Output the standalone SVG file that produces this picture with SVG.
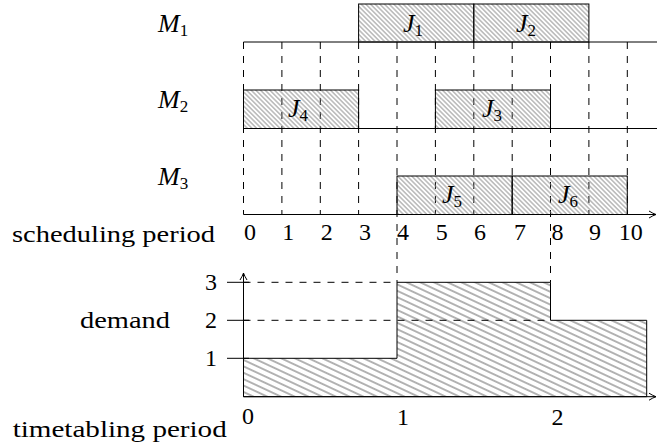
<svg xmlns="http://www.w3.org/2000/svg" width="657" height="447" viewBox="0 0 657 447">
<defs>
<style>
.t{font-family:"Liberation Serif","Times New Roman",serif;font-size:24px;fill:#000}
.i{font-style:italic;font-size:26px}
.s{font-size:17px}
.ax{stroke:#000;stroke-width:1;fill:none}
.dash{stroke:#000;stroke-width:1;stroke-dasharray:7 7;fill:none}
.box{fill:url(#hatchA);stroke:#000;stroke-width:1}
</style>
<pattern id="hatchA" patternUnits="userSpaceOnUse" width="10" height="3.3" patternTransform="rotate(45)">
<line x1="0" y1="1.65" x2="10" y2="1.65" stroke="#888" stroke-width="0.9"/>
</pattern>
<pattern id="hatchB" patternUnits="userSpaceOnUse" width="10" height="5.8" patternTransform="rotate(25)">
<line x1="0" y1="2.9" x2="10" y2="2.9" stroke="#555" stroke-width="0.9"/>
</pattern>
<marker id="arr" markerWidth="10" markerHeight="10" refX="8" refY="5" orient="auto" markerUnits="userSpaceOnUse">
<path d="M1,1.5 Q5,4 8,5 Q5,6 1,8.5" fill="none" stroke="#000" stroke-width="1"/>
</marker>
</defs>

<g id="connectors">
<line class="ax" x1="243.5" y1="42" x2="657" y2="42"/>
<line class="ax" x1="243.5" y1="128.5" x2="657" y2="128.5"/>
<line class="ax" x1="243.5" y1="214.5" x2="656" y2="214.5" marker-end="url(#arr)"/>
<g class="dash">
<line x1="243.5" y1="42" x2="243.5" y2="214.5"/>
<line x1="281.9" y1="42" x2="281.9" y2="214.5"/>
<line x1="320.3" y1="42" x2="320.3" y2="214.5"/>
<line x1="358.6" y1="42" x2="358.6" y2="214.5"/>
<line x1="397" y1="42" x2="397" y2="282.5"/>
<line x1="435.4" y1="42" x2="435.4" y2="214.5"/>
<line x1="473.8" y1="42" x2="473.8" y2="214.5"/>
<line x1="512.2" y1="42" x2="512.2" y2="214.5"/>
<line x1="550.5" y1="42" x2="550.5" y2="282.5"/>
<line x1="588.9" y1="42" x2="588.9" y2="214.5"/>
<line x1="627.3" y1="42" x2="627.3" y2="214.5"/>
</g>
</g>

<g id="machine-labels">
<text class="t" x="158" y="32"><tspan class="i">M</tspan><tspan class="s" dy="4">1</tspan></text>
<text class="t" x="158" y="108"><tspan class="i">M</tspan><tspan class="s" dy="4">2</tspan></text>
<text class="t" x="158" y="185"><tspan class="i">M</tspan><tspan class="s" dy="4">3</tspan></text>
</g>

<g id="J1"><rect class="box" x="358.6" y="4" width="115.2" height="38"/>
<text class="t" x="413" y="32" text-anchor="middle"><tspan class="i">J</tspan><tspan class="s" dy="4">1</tspan></text></g>
<g id="J2"><rect class="box" x="473.8" y="4" width="115.1" height="38"/>
<text class="t" x="526" y="32" text-anchor="middle"><tspan class="i">J</tspan><tspan class="s" dy="4">2</tspan></text></g>
<g id="J4"><rect class="box" x="243.5" y="90" width="115.1" height="38.5"/>
<text class="t" x="298" y="117" text-anchor="middle"><tspan class="i">J</tspan><tspan class="s" dy="4">4</tspan></text></g>
<g id="J3"><rect class="box" x="435.4" y="90" width="115.1" height="38.5"/>
<text class="t" x="492" y="117" text-anchor="middle"><tspan class="i">J</tspan><tspan class="s" dy="4">3</tspan></text></g>
<g id="J5"><rect class="box" x="397" y="176" width="115.2" height="38.5"/>
<text class="t" x="452" y="203" text-anchor="middle"><tspan class="i">J</tspan><tspan class="s" dy="4">5</tspan></text></g>
<g id="J6"><rect class="box" x="512.2" y="176" width="115.1" height="38.5"/>
<text class="t" x="568" y="203" text-anchor="middle"><tspan class="i">J</tspan><tspan class="s" dy="4">6</tspan></text></g>

<g id="scheduling-axis-labels">
<text class="t" x="12" y="242" textLength="203" lengthAdjust="spacingAndGlyphs">scheduling period</text>
<g text-anchor="middle">
<text class="t" x="250" y="240">0</text>
<text class="t" x="288.3" y="240">1</text>
<text class="t" x="326.7" y="240">2</text>
<text class="t" x="365" y="240">3</text>
<text class="t" x="403" y="240">4</text>
<text class="t" x="441.7" y="240">5</text>
<text class="t" x="480" y="240">6</text>
<text class="t" x="520" y="240">7</text>
<text class="t" x="557.5" y="240">8</text>
<text class="t" x="595" y="240">9</text>
<text class="t" x="630.8" y="240">10</text>
</g>
</g>

<g id="demand-chart">
<polygon points="243.5,396.7 243.5,358.3 397,358.3 397,282.3 550.5,282.3 550.5,320.3 646.7,320.3 646.7,396.7" fill="url(#hatchB)" stroke="#000" stroke-width="1"/>
<line class="dash" x1="243.5" y1="282.3" x2="397" y2="282.3"/>
<line class="dash" x1="243.5" y1="320.3" x2="550.5" y2="320.3"/>
<line class="ax" x1="227" y1="282.3" x2="249" y2="282.3"/>
<line class="ax" x1="227" y1="320.3" x2="249" y2="320.3"/>
<line class="ax" x1="227" y1="358.3" x2="249" y2="358.3"/>
<line class="ax" x1="243.5" y1="396.7" x2="243.5" y2="273" marker-end="url(#arr)"/>
<line class="ax" x1="243.5" y1="396.7" x2="656" y2="396.7" marker-end="url(#arr)"/>
<text class="t" x="211" y="290" text-anchor="middle">3</text>
<text class="t" x="211" y="328" text-anchor="middle">2</text>
<text class="t" x="211" y="366" text-anchor="middle">1</text>
<text class="t" x="80" y="328" textLength="90" lengthAdjust="spacingAndGlyphs">demand</text>
<text class="t" x="12.7" y="437" textLength="214" lengthAdjust="spacingAndGlyphs">timetabling period</text>
<text class="t" x="248" y="424" text-anchor="middle">0</text>
<text class="t" x="403" y="425" text-anchor="middle">1</text>
<text class="t" x="557.5" y="425" text-anchor="middle">2</text>
</g>
</svg>
